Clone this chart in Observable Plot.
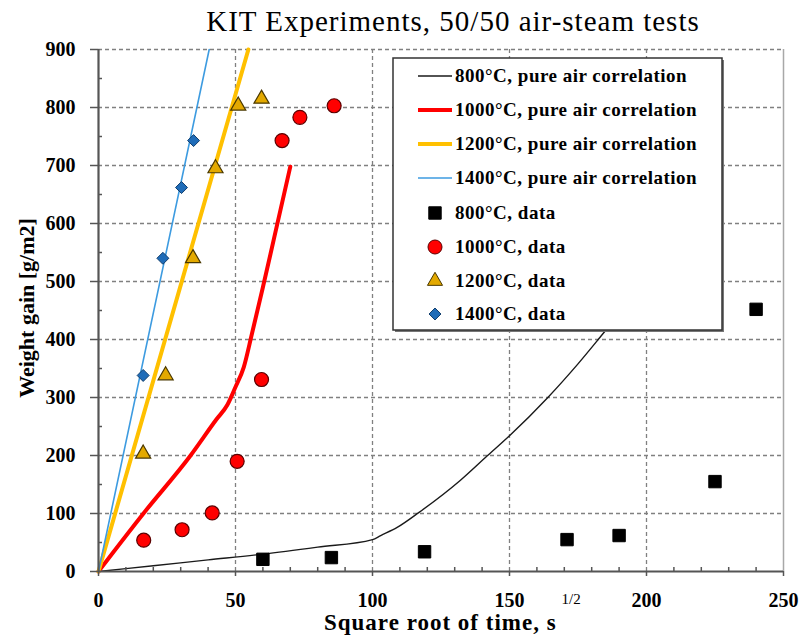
<!DOCTYPE html>
<html><head><meta charset="utf-8">
<script src="https://cdn.jsdelivr.net/npm/d3@7"></script>
<script src="https://cdn.jsdelivr.net/npm/@observablehq/plot@0.6"></script>
<style>body{margin:0;background:#fff} svg{display:block}</style>
</head><body><div id="chart"></div>
<script>
const titleText = "KIT Experiments, 50/50 air-steam tests";
const xLabelText = "Square root of time, s";
const xLabelSup = "1/2";
const yLabelText = "Weight gain [g/m2]";

const xTicks = [0, 50, 100, 150, 200, 250];
const yTicks = [0, 100, 200, 300, 400, 500, 600, 700, 800, 900];
const xMinorTicks = [10, 20, 30, 40, 60, 70, 80, 90, 110, 120, 130, 140, 160, 170, 180, 190, 210, 220, 230, 240];
const yMinorTicks = [50, 150, 250, 350, 450, 550, 650, 750, 850];
const xGrid = [50, 100, 150, 200];
const yGrid = [100, 200, 300, 400, 500, 600, 700, 800, 900];

// pure air correlations
const corr800X = [0, 20, 40, 60, 80, 100, 103, 109, 117, 132, 142, 150, 164, 175, 185, 195, 205];
const corr800Y = [0, 10, 20, 30, 42, 55, 62, 76, 102, 157, 200, 234, 300, 358, 415, 472, 535];
const corr1000X = [0, 16.4, 33.6, 43, 47, 50, 53, 56, 60, 64, 70];
const corr1000Y = [0, 100, 200, 262, 287, 318, 352, 410, 490, 573, 698];
const corr1200X = [0, 54.7];
const corr1200Y = [0, 900];
const corr1400X = [0, 40.4];
const corr1400Y = [0, 900];

// data
const data800X = [60, 85, 119, 171, 190, 225, 240];
const data800Y = [21, 24, 34, 55, 62, 155, 452];
const data1000X = [16.5, 30.5, 41.5, 50.6, 59.5, 67, 73.5, 86];
const data1000Y = [54, 72, 101, 190, 331, 743, 783, 803];
const data1200X = [16.3, 24.5, 34.5, 42.7, 51, 59.5];
const data1200Y = [203, 338, 540, 695, 803, 815];
const data1400X = [16.3, 23.5, 30.3, 34.7];
const data1400Y = [338, 540, 662, 743];

const legendLabels = [
  "800°C, pure air correlation",
  "1000°C, pure air correlation",
  "1200°C, pure air correlation",
  "1400°C, pure air correlation",
  "800°C, data",
  "1000°C, data",
  "1200°C, data",
  "1400°C, data"
];

const C = {
  l800: "#1a1a1a", l1000: "#ff0000", l1200: "#ffc000", l1400: "#3d9be0",
  d800: "#000000", d1000: "#ff0000", d1200: "#e3a900", d1400: "#1f6cb8"
};

const toRows = (xs, ys) => xs.map((x, i) => ({x, y: ys[i]}));

const serif = "'Liberation Serif', 'Times New Roman', serif";

const plot = Plot.plot({
  width: 804,
  height: 642,
  marginLeft: 98,
  marginRight: 21,
  marginTop: 49,
  marginBottom: 71,
  x: {domain: [0, 250]},
  y: {domain: [0, 900]},
  style: {fontFamily: serif, fontWeight: "bold", fontSize: "20px", color: "#000", background: "#fff"},
  marks: [
    Plot.ruleY(yGrid, {stroke: "#808080", strokeWidth: 1.3, strokeDasharray: "4,3"}),
    Plot.ruleX(xGrid, {stroke: "#808080", strokeWidth: 1.3, strokeDasharray: "4,3"}),
    Plot.ruleX([250], {stroke: "#a8a8a8", strokeWidth: 1.5}),
    Plot.line(toRows(corr800X, corr800Y), {x: "x", y: "y", stroke: C.l800, strokeWidth: 1.4, curve: "monotone-x"}),
    Plot.line(toRows(corr1000X, corr1000Y), {x: "x", y: "y", stroke: C.l1000, strokeWidth: 4, curve: "monotone-x"}),
    Plot.line(toRows(corr1200X, corr1200Y), {x: "x", y: "y", stroke: C.l1200, strokeWidth: 4}),
    Plot.line(toRows(corr1400X, corr1400Y), {x: "x", y: "y", stroke: C.l1400, strokeWidth: 1.6}),
    Plot.dot(toRows(data800X, data800Y), {x: "x", y: "y", symbol: "square", r: 7, fill: C.d800, stroke: "#000", strokeWidth: 1}),
    Plot.dot(toRows(data1000X, data1000Y), {x: "x", y: "y", symbol: "circle", r: 7, fill: C.d1000, stroke: "#5a0000", strokeWidth: 1.2}),
    Plot.dot(toRows(data1200X, data1200Y), {x: "x", y: "y", symbol: "triangle", r: 5.6, fill: C.d1200, stroke: "#4a3800", strokeWidth: 1.2}),
    Plot.dot(toRows(data1400X, data1400Y), {x: "x", y: "y", symbol: "diamond2", r: 5.4, fill: C.d1400, stroke: "#123f6e", strokeWidth: 1}),
    Plot.ruleX(xMinorTicks, {y1: 0, y2: 0, insetTop: -4, stroke: "#555", strokeWidth: 1.5}),
    Plot.ruleY(yMinorTicks, {x1: 0, x2: 0, insetRight: -4, stroke: "#555", strokeWidth: 1.5}),
    Plot.axisX({ticks: xTicks, tickSize: 5, tickPadding: 16, stroke: "#555", strokeWidth: 1.5, label: null, fontSize: 20, fontWeight: "bold"}),
    Plot.axisY({ticks: yTicks, tickSize: 8, tickPadding: 15, stroke: "#555", strokeWidth: 1.5, label: null, fontSize: 20, fontWeight: "bold"}),
    Plot.ruleY([0], {stroke: "#555", strokeWidth: 2.2}),
    Plot.ruleX([0], {stroke: "#555", strokeWidth: 2.2})
  ]
});

const svg = d3.select(plot);

// title
svg.append("text")
  .attr("x", 453).attr("y", 31)
  .attr("text-anchor", "middle")
  .style("font-family", serif).style("font-weight", "normal").style("font-size", "29px")
  .style("letter-spacing", "1px")
  .attr("fill", "#000")
  .text(titleText);

// y label
svg.append("text")
  .attr("transform", "translate(34,308) rotate(-90)")
  .attr("text-anchor", "middle")
  .style("font-family", serif).style("font-weight", "bold").style("font-size", "22px")
  .attr("fill", "#000")
  .text(yLabelText);

// x label with superscript
const xl = svg.append("text")
  .attr("x", 324).attr("y", 630)
  .attr("text-anchor", "start")
  .style("font-family", serif).style("font-weight", "bold").style("font-size", "23px")
  .style("letter-spacing", "1px")
  .attr("fill", "#000");
xl.append("tspan").text(xLabelText);
xl.append("tspan").attr("dx", 5).attr("dy", -26).style("font-size", "15px").style("font-weight", "normal").style("letter-spacing", "0px").text(xLabelSup);

// legend
const lg = svg.append("g");
lg.append("rect").attr("x", 395).attr("y", 60).attr("width", 329).attr("height", 272).attr("fill", "#777");
lg.append("rect").attr("x", 393).attr("y", 58).attr("width", 329).attr("height", 272)
  .attr("fill", "#fff").attr("stroke", "#333").attr("stroke-width", 1.5);
const rowsY = [76, 110, 144, 178, 213, 247, 281, 314];
const lineStyles = [
  {c: C.l800, w: 1.4}, {c: C.l1000, w: 4}, {c: C.l1200, w: 4}, {c: C.l1400, w: 1.6}
];
legendLabels.forEach((lab, i) => {
  const y = rowsY[i];
  if (i < 4) {
    lg.append("line").attr("x1", 418).attr("x2", 452).attr("y1", y).attr("y2", y)
      .attr("stroke", lineStyles[i].c).attr("stroke-width", lineStyles[i].w);
  } else {
    const k = i - 4;
    const sym = [d3.symbolSquare, d3.symbolCircle, d3.symbolTriangle, d3.symbolDiamond2][k];
    const r = [7, 7, 5.6, 5.4][k];
    const fill = [C.d800, C.d1000, C.d1200, C.d1400][k];
    const stroke = ["#000", "#5a0000", "#4a3800", "#123f6e"][k];
    lg.append("path").attr("d", d3.symbol(sym, Math.PI * r * r)())
      .attr("transform", `translate(435,${y})`)
      .attr("fill", fill).attr("stroke", stroke).attr("stroke-width", 1);
  }
  lg.append("text").attr("x", 455).attr("y", y + 6)
    .attr("text-anchor", "start")
    .style("font-family", serif).style("font-weight", "bold").style("font-size", "19px")
    .style("letter-spacing", "0.5px")
    .attr("fill", "#000").text(lab);
});

document.getElementById("chart").appendChild(plot);
</script>
</body></html>
